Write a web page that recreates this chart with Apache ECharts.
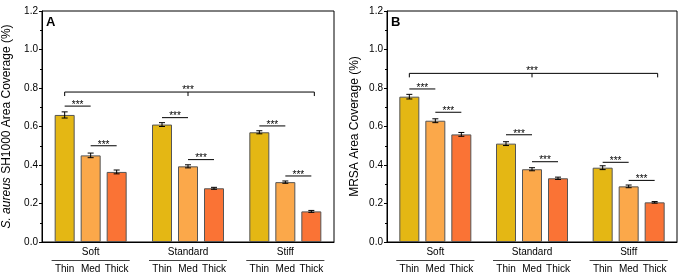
<!DOCTYPE html>
<html><head><meta charset="utf-8">
<script src="https://cdn.jsdelivr.net/npm/echarts@6/dist/echarts.min.js"></script>
<style>html,body{margin:0;padding:0;background:#fff}#c{width:682px;height:276px}</style>
</head><body><div id="c"></div>
<script>
// ---- data ----
const groups = ['Soft', 'Standard', 'Stiff'];
const thicknesses = ['Thin', 'Med', 'Thick'];
const yTickValues = [0.0, 0.2, 0.4, 0.6, 0.8, 1.0, 1.2];

// Panel A: S. aureus SH1000
const saThin = [0.660, 0.610, 0.570];
const saMed = [0.450, 0.393, 0.311];
const saThick = [0.364, 0.279, 0.159];
const saThinErr = [0.016, 0.010, 0.008];
const saMedErr = [0.012, 0.008, 0.006];
const saThickErr = [0.010, 0.005, 0.005];
// [group, fromBar, toBar, y]
const saSig = [[0, 0, 1, 0.706], [0, 1, 2, 0.500], [1, 0, 1, 0.646], [1, 1, 2, 0.428], [2, 0, 1, 0.603], [2, 1, 2, 0.343]];
const saBracketY = 0.779;

// Panel B: MRSA
const mrThin = [0.755, 0.511, 0.386];
const mrMed = [0.630, 0.378, 0.289];
const mrThick = [0.559, 0.331, 0.206];
const mrThinErr = [0.012, 0.010, 0.010];
const mrMedErr = [0.010, 0.008, 0.007];
const mrThickErr = [0.010, 0.006, 0.004];
const mrSig = [[0, 0, 1, 0.795], [0, 1, 2, 0.674], [1, 0, 1, 0.557], [1, 1, 2, 0.417], [2, 0, 1, 0.414], [2, 1, 2, 0.320]];
const mrBracketY = 0.876;

// ---- style ----
const FONT = '"Liberation Sans", Arial, sans-serif';
const COLORS = ['#E4B714', '#FBA84A', '#FA7335'];
const BAR_W = 20, BAR_GAP = 6, STEP = BAR_W + BAR_GAP;

const chart = echarts.init(document.getElementById('c'), null, {renderer: 'canvas'});

function errData(means, errs) {
  const out = [];
  means.forEach((m, b) => m.forEach((v, g) => out.push([g, b, v, errs[b][g]])));
  return out;
}
function barX(api, g, b, y) {
  const c = api.coord([g, y]);
  return [c[0] + (b - 1) * STEP, c[1]];
}
function renderErr(params, api) {
  const g = api.value(0), b = api.value(1), m = api.value(2), e = api.value(3);
  const x = barX(api, g, b, m)[0];
  const top = api.coord([g, m + e])[1], bot = api.coord([g, m - e])[1];
  const st = {stroke: '#000', lineWidth: 1};
  return {type: 'group', children: [
    {type: 'line', shape: {x1: x, y1: top, x2: x, y2: bot}, style: st},
    {type: 'line', shape: {x1: x - 3, y1: top, x2: x + 3, y2: top}, style: st},
    {type: 'line', shape: {x1: x - 3, y1: bot, x2: x + 3, y2: bot}, style: st}
  ]};
}
function starText(x, y) {
  return {type: 'text', style: {text: '***', x: x, y: y + 4, align: 'center', verticalAlign: 'bottom',
    fontSize: 10, fontFamily: FONT, fill: '#000'}};
}
function renderSig(params, api) {
  const g = api.value(0), b1 = api.value(1), b2 = api.value(2), y = api.value(3);
  const p1 = barX(api, g, b1, y), p2 = barX(api, g, b2, y);
  return {type: 'group', children: [
    {type: 'line', shape: {x1: p1[0], y1: p1[1], x2: p2[0], y2: p2[1]}, style: {stroke: '#000', lineWidth: 1}},
    starText((p1[0] + p2[0]) / 2, p1[1])
  ]};
}
function renderBracket(params, api) {
  const yv = api.value(0);
  const p1 = barX(api, 0, 0, yv), p2 = barX(api, 2, 2, yv), pm = barX(api, 1, 1, yv);
  const x2 = p2[0] + 3, py = p1[1];
  const st = {stroke: '#000', lineWidth: 1};
  return {type: 'group', children: [
    {type: 'line', shape: {x1: p1[0], y1: py, x2: x2, y2: py}, style: st},
    {type: 'line', shape: {x1: p1[0], y1: py, x2: p1[0], y2: py + 4}, style: st},
    {type: 'line', shape: {x1: x2, y1: py, x2: x2, y2: py + 4}, style: st},
    {type: 'line', shape: {x1: pm[0], y1: py, x2: pm[0], y2: py + 4}, style: st},
    starText(pm[0], py - 1)
  ]};
}

function xAxis(gi) {
  return {
    type: 'category', gridIndex: gi, data: groups,
    axisLine: {lineStyle: {color: '#000', width: 1}},
    axisTick: {show: false},
    axisLabel: {
      interval: 0, hideOverlap: false,
      margin: 4, color: '#000', fontFamily: FONT, fontSize: 10,
      formatter: v => `{n|${v}}\n{l|}\n` + thicknesses.map(t => `{s|${t}}`).join(''),
      rich: {
        n: {fontSize: 10, lineHeight: 13, fontFamily: FONT, color: '#000'},
        l: {width: 78, height: 0, borderColor: '#000', borderWidth: 0.5, lineHeight: 3},
        s: {width: 26, align: 'center', fontSize: 10, lineHeight: 15, fontFamily: FONT, color: '#000'}
      }
    }
  };
}
function yAxis(gi, name, gap) {
  return {
    type: 'value', gridIndex: gi, min: yTickValues[0], max: yTickValues[yTickValues.length - 1], interval: 0.2,
    name: name, nameLocation: 'middle', nameGap: gap,
    nameTextStyle: {fontSize: 12, fontFamily: FONT, color: '#000',
      rich: {i: {fontSize: 12, fontFamily: FONT, fontStyle: 'italic', color: '#000'}}},
    axisLine: {show: true, lineStyle: {color: '#000', width: 1}},
    axisTick: {show: true, inside: false, length: 3, lineStyle: {color: '#000'}},
    minorTick: {show: true, splitNumber: 2, length: 2, lineStyle: {color: '#000'}},
    splitLine: {show: false},
    axisLabel: {margin: 4, color: '#000', fontFamily: FONT, fontSize: 10, formatter: v => v.toFixed(1)}
  };
}
function bars(gi, arrs) {
  return arrs.map((d, b) => ({
    type: 'bar', name: thicknesses[b], xAxisIndex: gi, yAxisIndex: gi, data: d,
    barWidth: BAR_W, barGap: (BAR_GAP / BAR_W * 100) + '%',
    itemStyle: {color: COLORS[b], borderColor: '#555', borderWidth: 1},
    silent: true
  }));
}
function extras(gi, means, errs, sig, by) {
  return [
    {type: 'custom', xAxisIndex: gi, yAxisIndex: gi, data: errData(means, errs), renderItem: renderErr, z: 5, silent: true},
    {type: 'custom', xAxisIndex: gi, yAxisIndex: gi, data: sig, renderItem: renderSig, z: 5, silent: true},
    {type: 'custom', xAxisIndex: gi, yAxisIndex: gi, data: [[by]], renderItem: renderBracket, z: 5, silent: true}
  ];
}

chart.setOption({
  animation: false,
  textStyle: {fontFamily: FONT},
  grid: [
    {left: 42, top: 11, width: 292, height: 231, show: true, borderColor: '#000', borderWidth: 1},
    {left: 387, top: 11, width: 290, height: 231, show: true, borderColor: '#000', borderWidth: 1}
  ],
  xAxis: [xAxis(0), xAxis(1)],
  yAxis: [yAxis(0, '{i|S. aureus} SH1000 Area Coverage (%)', 29), yAxis(1, 'MRSA Area Coverage (%)', 26)],
  graphic: [
    {type: 'text', left: 46, top: 16, style: {text: 'A', fontSize: 13, fontWeight: 'bold', fontFamily: FONT, fill: '#000'}},
    {type: 'text', left: 391, top: 16, style: {text: 'B', fontSize: 13, fontWeight: 'bold', fontFamily: FONT, fill: '#000'}}
  ],
  series: [
    ...bars(0, [saThin, saMed, saThick]),
    ...bars(1, [mrThin, mrMed, mrThick]),
    ...extras(0, [saThin, saMed, saThick], [saThinErr, saMedErr, saThickErr], saSig, saBracketY),
    ...extras(1, [mrThin, mrMed, mrThick], [mrThinErr, mrMedErr, mrThickErr], mrSig, mrBracketY)
  ]
});
</script></body></html>
